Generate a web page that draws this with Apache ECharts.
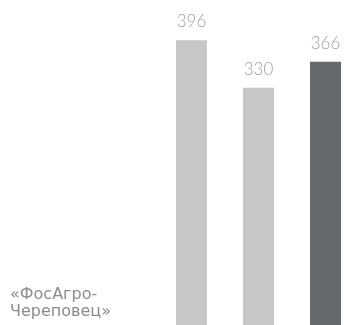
<!DOCTYPE html>
<html>
<head>
<meta charset="utf-8">
<script src="https://cdn.jsdelivr.net/npm/echarts@6/dist/echarts.min.js"></script>
<style>
  html, body { margin: 0; padding: 0; background: #fff; }
  #chart { width: 350px; height: 325px; }
</style>
</head>
<body>
<div id="chart"></div>
<script>
const categories = ['2019', '2020', '2021']
const values = [396, 330, 366]
const barColors = ['#c6c7c9', '#c6c7c9', '#66696c']
const companyName = '«ФосАгро-\nЧереповец»'

const chart = echarts.init(document.getElementById('chart'))

const option = {
  animation: false,
  title: {
    text: companyName,
    left: 5,
    bottom: 0,
    textStyle: {
      fontFamily: 'DejaVu Sans',
      fontWeight: 'normal',
      fontSize: 16,
      lineHeight: 17,
      color: '#8c8c8c'
    }
  },
  grid: {
    left: 191.5,
    right: 24.5,
    top: 0,
    bottom: 0
  },
  xAxis: {
    type: 'category',
    data: categories,
    boundaryGap: false,
    axisLine: { show: false },
    axisTick: { show: false },
    axisLabel: { show: false }
  },
  yAxis: {
    type: 'value',
    min: 0,
    max: 452,
    show: false,
    splitLine: { show: false }
  },
  series: [
    {
      type: 'bar',
      barWidth: 31,
      data: values.map((v, i) => ({ value: v, itemStyle: { color: barColors[i] } })),
      label: {
        show: true,
        position: 'top',
        distance: 10,
        fontFamily: 'Lato',
        fontWeight: 300,
        fontSize: 17,
        color: '#a0a0a0'
      }
    }
  ]
}
chart.setOption(option)
</script>
</body>
</html>
